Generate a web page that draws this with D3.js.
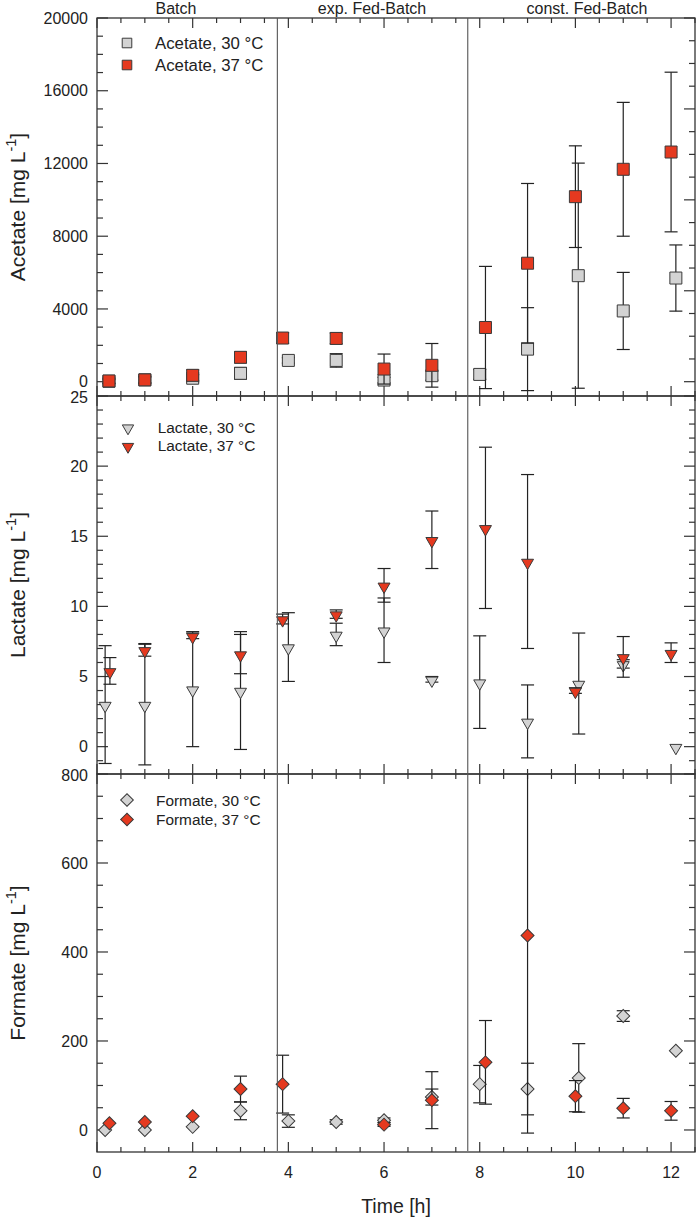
<!DOCTYPE html>
<html><head><meta charset="utf-8">
<script src="https://cdn.jsdelivr.net/npm/d3@7"></script>
<style>body{margin:0;background:#fff}svg{display:block}text{font-family:"Liberation Sans",Arial,sans-serif;fill:#222}</style>
</head><body><svg id="c" width="696" height="1219"></svg>
<script>
// ---- data ----
const phaseLabels = ["Batch", "exp. Fed-Batch", "const. Fed-Batch"];
const phaseBounds = [3.77, 7.75];
const xTicks = [0, 2, 4, 6, 8, 10, 12];

const acetate30X   = [0.25, 1, 2, 3, 4, 5, 6, 7, 8, 9, 10.06, 11, 12.1];
const acetate30    = [20, 100, 190, 460, 1170, 1170, 90, 330, 400, 1790, 5830, 3890, 5700];
const acetate30Err = [100, 150, 200, 320, 150, 370, 150, 250, 270, 2280, 6190, 2120, 1820];
const acetate37X   = [0.25, 1, 2, 3, 3.88, 5, 6, 7, 8.12, 9, 10, 11, 12];
const acetate37    = [40, 100, 350, 1340, 2400, 2380, 695, 900, 2980, 6515, 10175, 11680, 12630];
const acetate37Err = [150, 200, 300, 300, 290, 300, 825, 1200, 3360, 4385, 2795, 3680, 4390];

const lactate30X   = [0.17, 1, 2, 3, 4, 5, 6, 7, 8, 9, 10.07, 11, 12.1];
const lactate30    = [3.0, 3.0, 4.1, 4.0, 7.1, 8.0, 8.3, 4.8, 4.6, 1.8, 4.5, 5.9, 0];
const lactate30Err = [4.2, 4.3, 4.1, 4.2, 2.45, 0.8, 2.3, 0.2, 3.3, 2.6, 3.6, 0.3, 0];
const lactate37X   = [0.27, 1, 2, 3, 3.88, 5, 6, 7, 8.12, 9, 10, 11, 12];
const lactate37    = [5.4, 6.9, 7.9, 6.6, 9.1, 9.45, 11.5, 14.75, 15.6, 13.2, 4.0, 6.4, 6.7];
const lactate37Err = [0.95, 0.45, 0.2, 1.4, 0.35, 0.3, 1.2, 2.05, 5.75, 6.2, 0.2, 1.45, 0.7];

const formate30X   = [0.17, 1, 2, 3, 4, 5, 6, 7, 8, 9, 10.07, 11, 12.1];
const formate30    = [0, 0, 7, 43, 20, 18, 22, 74, 103, 92, 117, 256, 178];
const formate30Err = [0, 0, 0, 20, 14, 5, 5, 18, 42, 58, 77, 12, 0];
const formate37X   = [0.26, 1, 2, 3, 3.88, 6, 7, 8.12, 9, 10, 11, 12];
const formate37    = [15, 18, 31, 92, 103, 12, 67, 152, 437, 76, 49, 43];
const formate37Err = [0, 0, 0, 29, 65, 4, 64, 94, 444, 35, 22, 21];

const acetateTicks = [0, 4000, 8000, 12000, 16000, 20000];
const lactateTicks = [0, 5, 10, 15, 20, 25];
const formateTicks = [0, 200, 400, 600, 800];

// ---- layout ----
const svg = d3.select("#c");
const L = 97, R = 695;
const x = d3.scaleLinear().domain([0, 12.5]).range([L, R]);
const RED = "#e5391f", GRAY = "#d3d3d3", EDGE = "#3a3a3a", AX = "#333";

const panels = [
  {name: "Acetate", top: 18, bottom: 396, domain: [-787, 20000], ticks: acetateTicks, minor: 1000, rMinor: 1250, rMajor: 5000,
   shape: "square", legY: [43, 65], legX: 127, legTextX: 155, legFont: 16.8,
   s: [[acetate30X, acetate30, acetate30Err, GRAY, "Acetate, 30 °C"], [acetate37X, acetate37, acetate37Err, RED, "Acetate, 37 °C"]]},
  {name: "Lactate", top: 396, bottom: 774, domain: [-1.95, 25], ticks: lactateTicks, minor: 1, rMinor: 1, rMajor: 5,
   shape: "tri", legY: [427, 445.5], legX: 128, legTextX: 157.7, legFont: 15.4,
   s: [[lactate30X, lactate30, lactate30Err, GRAY, "Lactate, 30 °C"], [lactate37X, lactate37, lactate37Err, RED, "Lactate, 37 °C"]]},
  {name: "Formate", top: 774, bottom: 1152, domain: [-49.5, 800], ticks: formateTicks, minor: 50, rMinor: 50, rMajor: 200,
   shape: "diamond", legY: [800, 819.5], legX: 127, legTextX: 156, legFont: 15.4,
   s: [[formate30X, formate30, formate30Err, GRAY, "Formate, 30 °C"], [formate37X, formate37, formate37Err, RED, "Formate, 37 °C"]]}
];

function sym(shape, big) {
  if (shape === "square") return d3.symbol(d3.symbolSquare, big ? 144 : 92)();
  if (shape === "diamond") return d3.symbol(d3.symbolSquare, big ? 84 : 80)();
  return d3.symbol(d3.symbolTriangle, big ? 62 : 56)();
}
function symTransform(shape, cx, cy) {
  if (shape === "diamond") return `translate(${cx},${cy}) rotate(45)`;
  if (shape === "tri") return `translate(${cx},${cy + 1.2}) rotate(180)`;
  return `translate(${cx},${cy})`;
}

panels.forEach((p, pi) => {
  const y = d3.scaleLinear().domain(p.domain).range([p.bottom, p.top]);
  const g = svg.append("g");
  const clipId = "clip" + pi;
  svg.append("clipPath").attr("id", clipId).append("rect")
    .attr("x", L).attr("y", p.top).attr("width", R - L).attr("height", p.bottom - p.top);

  // left ticks
  const lo = Math.ceil(p.domain[0] / p.minor) * p.minor;
  const minorVals = d3.range(lo, p.domain[1] + 1e-9, p.minor);
  g.selectAll(".lt").data(minorVals).join("line")
    .attr("x1", L).attr("x2", d => L + (p.ticks.includes(+d.toFixed(6)) ? 11 : 6))
    .attr("y1", d => y(d)).attr("y2", d => y(d)).attr("stroke", AX).attr("stroke-width", 1.2);
  // right ticks
  const rlo = Math.ceil(p.domain[0] / p.rMinor) * p.rMinor;
  const rVals = d3.range(rlo, p.domain[1] + 1e-9, p.rMinor);
  g.selectAll(".rt").data(rVals).join("line")
    .attr("x1", R).attr("x2", d => R - (Math.abs(d / p.rMajor - Math.round(d / p.rMajor)) < 1e-6 ? 11 : 6))
    .attr("y1", d => y(d)).attr("y2", d => y(d)).attr("stroke", AX).attr("stroke-width", 1.2);
  // left labels (top-of-panel label nudged down a little, as in the reference)
  g.selectAll(".ll").data(p.ticks).join("text")
    .attr("x", 88).attr("y", d => y(d) + (pi > 0 && d === p.ticks[p.ticks.length - 1] ? 1.5 : 0))
    .attr("dy", "0.35em").attr("text-anchor", "end")
    .attr("font-size", 16).text(d => d);
  // x ticks top (down) and bottom (up)
  const xv = d3.range(0, 12.5 + 1e-9, 0.5);
  [[p.top, 1], [p.bottom, -1]].forEach(([yy, dir]) => {
    g.selectAll(null).data(xv).join("line")
      .attr("x1", d => x(d)).attr("x2", d => x(d))
      .attr("y1", yy).attr("y2", d => yy + dir * (d % 2 === 0 ? 10 : 5))
      .attr("stroke", AX).attr("stroke-width", 1.2);
  });
  // frame
  g.append("rect").attr("x", L).attr("y", p.top).attr("width", R - L).attr("height", p.bottom - p.top)
    .attr("fill", "none").attr("stroke", AX).attr("stroke-width", 1.3);

  // y title
  const cy = (p.top + p.bottom) / 2;
  const t = g.append("text").attr("transform", `translate(25,${cy}) rotate(-90)`)
    .attr("text-anchor", "middle").attr("font-size", 21);
  t.append("tspan").text(p.name + " [mg L");
  t.append("tspan").attr("dy", -9).attr("font-size", 14.5).text("-1");
  t.append("tspan").attr("dy", 9).text("]");

  // data
  const dg = g.append("g").attr("clip-path", `url(#${clipId})`);
  p.s.forEach(([xs, ys, es, col]) => {
    const d = xs.map((xx, i) => ({x: xx, y: ys[i], e: es[i]}));
    const eb = dg.append("g").attr("stroke", "#222").attr("stroke-width", 1.2);
    d.filter(v => v.e > 0).forEach(v => {
      eb.append("line").attr("x1", x(v.x)).attr("x2", x(v.x)).attr("y1", y(v.y - v.e)).attr("y2", y(v.y + v.e));
      eb.append("line").attr("x1", x(v.x) - 6.5).attr("x2", x(v.x) + 6.5).attr("y1", y(v.y - v.e)).attr("y2", y(v.y - v.e));
      eb.append("line").attr("x1", x(v.x) - 6.5).attr("x2", x(v.x) + 6.5).attr("y1", y(v.y + v.e)).attr("y2", y(v.y + v.e));
    });
    dg.append("g").selectAll("path").data(d).join("path")
      .attr("d", sym(p.shape, true))
      .attr("transform", v => symTransform(p.shape, x(v.x), y(v.y)))
      .attr("fill", col).attr("stroke", EDGE).attr("stroke-width", 1);
  });

  // legend
  p.s.forEach(([, , , col, label], i) => {
    g.append("path").attr("d", sym(p.shape, false))
      .attr("transform", symTransform(p.shape, p.legX, p.legY[i]))
      .attr("fill", col).attr("stroke", EDGE).attr("stroke-width", 1);
    g.append("text").attr("x", p.legTextX).attr("y", p.legY[i]).attr("dy", "0.36em")
      .attr("font-size", p.legFont).text(label);
  });
});

// phase lines
svg.selectAll(".ph").data(phaseBounds).join("line")
  .attr("x1", d => x(d)).attr("x2", d => x(d)).attr("y1", 18).attr("y2", 1151)
  .attr("stroke", "#555").attr("stroke-width", 1.1);
// phase labels
const phaseX = [176, 372, 587];
svg.selectAll(".pl").data(phaseLabels).join("text")
  .attr("x", (d, i) => phaseX[i]).attr("y", 13.5).attr("text-anchor", "middle")
  .attr("font-size", 16).text(d => d);

// x labels
svg.selectAll(".xl").data(xTicks).join("text")
  .attr("x", d => x(d)).attr("y", 1177.5).attr("text-anchor", "middle").attr("font-size", 16).text(d => d);
svg.append("text").attr("x", (L + R) / 2).attr("y", 1213).attr("text-anchor", "middle")
  .attr("font-size", 19.5).text("Time [h]");
</script></body></html>
